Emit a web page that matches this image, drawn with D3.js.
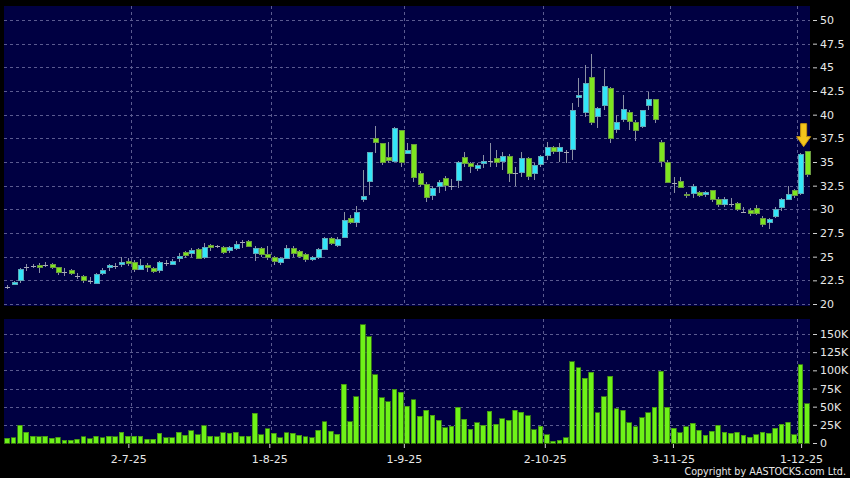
<!DOCTYPE html>
<html><head><meta charset="utf-8">
<script src="https://cdn.jsdelivr.net/npm/d3@7"></script>
<style>html,body{margin:0;padding:0;background:#000;}svg{display:block;}</style>
</head><body>
<svg id="c" width="850" height="478"></svg>
<script>
// trading days (day numbers per month, 2025)
const jun = [3,4,5,6,9,10,11,12,13,16,17,18,19,20,23,24,25,26,27,30];
const jul = [2,3,4,7,8,9,10,11,14,15,16,17,18,21,22,23,24,25,28,29,30,31];
const aug = [1,4,5,6,7,8,11,12,13,14,15,18,19,20,21,22,25,26,27,28,29];
const sep = [1,2,3,4,5,8,9,10,11,12,15,16,17,18,19,22,23,24,25,26,29,30];
const oct = [2,3,6,8,9,10,13,14,15,16,17,20,21,22,23,24,27,28,30,31];
const nov = [3,4,5,6,7,10,11,12,13,14,17,18,19,20,21,24,25,26,27,28];
const dec = [1,2];
const dates = [].concat(
  jun.map(d => d + "-6-25"), jul.map(d => d + "-7-25"), aug.map(d => d + "-8-25"),
  sep.map(d => d + "-9-25"), oct.map(d => d + "-10-25"), nov.map(d => d + "-11-25"),
  dec.map(d => d + "-12-25"));

const open = [21.76,22.08,22.46,23.94,24.01,24.08,24.16,24.19,23.87,23.41,23.56,23.00,22.93,22.46,22.18,23.24,23.87,24.01,24.19,24.54,
24.37,23.66,24.08,23.77,23.56,24.37,24.19,24.79,25.46,25.31,25.74,24.90,26.15,26.10,25.99,25.67,25.85,26.55,26.65,25.31,
25.81,25.20,24.93,24.37,24.83,25.81,25.52,25.24,24.65,24.93,25.78,26.94,26.17,27.05,29.05,28.63,31.06,32.96,37.50,36.97,
35.50,35.03,38.34,35.90,36.87,33.80,32.64,31.44,32.43,33.28,32.50,33.07,35.50,34.86,34.33,34.79,35.10,35.35,35.10,35.56,
33.80,33.91,35.39,33.80,34.76,35.71,36.55,36.13,36.09,36.27,41.82,40.25,43.94,39.78,40.99,42.78,38.45,39.50,40.20,39.15,
38.73,40.92,41.55,37.08,34.97,32.80,32.92,31.60,31.62,31.76,31.62,31.97,31.06,30.53,30.53,30.64,29.75,29.90,30.07,29.05,
28.63,29.22,30.21,31.09,32.00,31.62,36.09];
const high = [21.98,22.46,23.77,24.23,24.23,24.30,24.44,24.30,23.94,23.77,23.66,23.24,23.06,22.88,23.24,23.77,24.23,24.37,25.00,24.83,
24.65,24.75,24.30,23.87,24.58,24.65,24.72,25.42,25.60,25.88,25.88,26.47,26.34,26.20,26.13,26.13,26.65,26.76,26.76,26.13,
26.05,26.13,25.07,25.00,26.23,26.13,25.70,25.42,25.10,25.95,27.11,27.05,27.05,29.69,29.40,30.35,34.20,36.09,38.80,37.04,
37.10,38.73,38.40,36.97,36.87,34.05,32.92,32.46,33.10,33.52,33.17,35.14,36.09,35.03,34.93,35.74,37.00,36.27,36.09,35.81,
34.50,36.09,35.56,34.86,35.74,37.08,36.72,36.97,36.27,41.20,43.84,45.25,46.40,40.84,44.85,42.96,39.96,42.08,40.49,39.44,
40.49,42.43,41.55,37.32,35.21,33.45,33.45,31.86,32.68,31.90,31.97,32.04,31.34,31.34,31.16,30.81,30.28,30.10,30.46,29.30,
29.05,30.21,31.16,32.46,32.11,35.98,36.20];
const low = [21.55,21.97,22.25,23.45,23.77,23.31,23.87,23.73,23.06,22.96,23.03,22.61,22.18,22.11,22.11,23.06,23.52,23.70,23.87,24.01,
23.41,23.66,23.41,23.24,23.31,24.01,24.08,24.47,24.83,25.00,24.72,24.79,25.63,25.90,25.28,25.35,25.70,25.88,25.99,24.58,
25.00,24.65,24.16,24.12,24.72,24.97,24.83,24.47,24.50,24.80,25.70,26.23,26.05,27.05,28.45,28.17,30.80,31.51,35.90,34.68,
34.86,35.03,34.50,35.85,32.92,32.33,30.81,30.99,31.76,31.97,32.04,32.22,34.50,33.87,34.08,34.33,34.50,34.50,34.15,32.92,
32.46,33.45,33.10,33.10,34.50,35.21,35.85,35.03,34.93,35.25,40.84,39.79,38.91,38.56,40.49,36.97,38.03,39.26,38.38,37.25,
38.56,40.49,39.09,34.50,32.75,31.76,32.22,31.16,31.16,31.30,31.34,30.81,30.28,30.28,30.28,29.86,29.58,29.30,29.40,28.17,
27.95,29.05,29.86,30.99,31.16,31.55,33.45];
const close = [21.76,22.29,23.66,23.94,24.01,23.87,24.16,23.84,23.35,23.41,23.20,23.00,22.50,22.46,23.13,23.56,24.08,24.01,24.40,24.30,
23.66,24.04,23.87,23.41,24.37,24.37,24.51,25.04,25.10,25.67,24.79,25.95,26.00,26.10,25.49,25.92,26.31,26.55,26.10,25.81,
25.28,24.95,24.44,24.83,25.88,25.31,25.07,24.65,24.93,25.78,26.94,26.41,26.84,28.84,28.63,29.69,31.38,36.02,37.04,34.93,
35.14,38.55,34.93,36.20,33.38,32.64,31.27,32.25,32.85,32.54,32.50,34.97,34.79,34.55,34.65,35.07,35.10,34.97,35.60,33.80,
33.80,35.39,33.49,34.58,35.53,36.55,36.13,36.55,36.09,40.45,41.98,43.31,39.19,40.67,42.99,37.50,39.19,40.56,39.26,38.38,
40.39,41.55,39.50,35.03,32.85,32.80,32.33,31.45,32.39,31.48,31.76,31.09,30.46,30.99,30.53,30.03,29.75,29.60,29.58,28.45,
28.95,30.00,30.99,31.59,31.41,35.84,33.63];
// volume in thousands of shares
const volumeK = [6.4,6.9,24.3,14.7,9.2,8.7,9.6,6.4,7.8,3.7,3.7,5.0,8.3,6.0,9.2,7.3,9.6,8.3,15.1,9.2,
9.2,9.2,5.5,5.5,13.3,7.3,6.9,15.1,11.0,17.0,11.5,23.6,9.2,8.3,13.8,13.3,15.1,9.0,9.2,40.8,
11.5,19.5,13.5,6.9,14.2,13.3,11.0,8.7,6.9,17.4,28.9,16.5,11.9,80.7,28.9,63.5,162.4,146.3,94.0,62.0,
57.0,74.3,69.5,50.5,59.2,36.7,45.4,38.0,31.2,21.1,22.9,49.1,33.0,18.8,28.0,24.3,44.0,25.7,33.5,31.6,
45.0,42.2,37.6,17.9,22.9,11.5,2.3,4.1,7.3,112.0,103.6,89.4,97.2,41.3,63.7,91.7,46.8,45.4,28.0,22.5,
34.9,41.8,49.1,98.6,49.1,20.6,13.8,22.5,27.1,17.4,11.0,16.1,24.3,14.7,13.3,15.1,10.5,7.8,11.5,15.1,
13.3,20.6,26.1,28.4,11.5,107.8,53.7];

const priceTicks = [20,22.5,25,27.5,30,32.5,35,37.5,40,42.5,45,47.5,50];
const volTicks = [0,25,50,75,100,125,150];
const tickDates = ["2-7-25","1-8-25","1-9-25","2-10-25","3-11-25","1-12-25"];

const FONT = "DejaVu Sans, Verdana, sans-serif";
const svg = d3.select("#c");
svg.append("rect").attr("width",850).attr("height",478).attr("fill","#000");

const L = 4, R = 810;
const P = {top:6, bottom:306}, V = {top:319, bottom:443};
const x = d3.scaleBand().domain(dates).range([L, R]).padding(0);
const bw = x.bandwidth();
const xl = d3.scaleLinear().domain([0, dates.length - 1]).range([0.2, 807.5]);
const yP = d3.scaleLinear().domain([20, 50]).range([304, 20]);
const yV = d3.scaleLinear().domain([0, 150]).range([443, 334]);

const panelFill = "#000042";
svg.append("rect").attr("x",L).attr("y",P.top).attr("width",R-L).attr("height",P.bottom-P.top).attr("fill",panelFill);
svg.append("rect").attr("x",L).attr("y",V.top).attr("width",R-L).attr("height",V.bottom-V.top).attr("fill",panelFill);

const gridCol = "#5b5b90";
const grid = svg.append("g").attr("stroke",gridCol).attr("stroke-width",1).attr("stroke-dasharray","3,3").attr("shape-rendering","crispEdges");
grid.selectAll(".hp").data(priceTicks).join("line")
  .attr("x1",L).attr("x2",R).attr("y1",d=>Math.round(yP(d))+0.5).attr("y2",d=>Math.round(yP(d))+0.5);
grid.selectAll(".hv").data(volTicks.filter(v=>v>0)).join("line")
  .attr("x1",L).attr("x2",R).attr("y1",d=>Math.round(yV(d))+0.5).attr("y2",d=>Math.round(yV(d))+0.5);
tickDates.forEach(td => {
  const gx = Math.round(x(td)) + 0.5;
  grid.append("line").attr("x1",gx).attr("x2",gx).attr("y1",P.top).attr("y2",P.bottom);
  grid.append("line").attr("x1",gx).attr("x2",gx).attr("y1",V.top).attr("y2",V.bottom);
});

// candles
const candles = svg.append("g").attr("shape-rendering","crispEdges");
const wickCol = "#8a90a4";
const upFill = "#33e6f8", upStroke = "#5fa8b8";
const dnFill = "#7ee620", dnStroke = "#6a9a40";
dates.forEach((d, i) => {
  const cx = Math.round(x(d) + bw/2) + 0.5;
  const o = open[i], c = close[i], h = high[i], l = low[i];
  candles.append("line").attr("x1",cx).attr("x2",cx).attr("y1",yP(h)).attr("y2",yP(l))
    .attr("stroke",wickCol).attr("stroke-width",1);
  if (o === c) {
    candles.append("line").attr("x1",cx-2.5).attr("x2",cx+2.5).attr("y1",Math.round(yP(o))+0.5).attr("y2",Math.round(yP(o))+0.5)
      .attr("stroke","#a8aab8").attr("stroke-width",1);
  } else {
    const top = yP(Math.max(o,c)), bot = yP(Math.min(o,c));
    candles.append("rect").attr("x",cx-2.5).attr("y",top).attr("width",5).attr("height",Math.max(1.5,bot-top))
      .attr("fill", c > o ? upFill : dnFill).attr("stroke", c > o ? upStroke : dnStroke).attr("stroke-width",1);
  }
});

// volume bars
svg.append("g").attr("shape-rendering","crispEdges").selectAll("rect").data(volumeK).join("rect")
  .attr("x",(v,i)=>x(dates[i])+0.9).attr("width",bw-1.6)
  .attr("y",v=>yV(v)).attr("height",v=>yV(0)-yV(v))
  .attr("fill","#6ef218").attr("stroke","#3f8a12").attr("stroke-width",0.8);

// arrow marker over latest candles
const ax = x(dates[dates.length-1]);
const tipY = yP(high[dates.length-1]) - 4;
svg.append("path")
  .attr("d",`M${ax-3},${tipY-23} L${ax+3},${tipY-23} L${ax+3},${tipY-10} L${ax+7},${tipY-10} L${ax},${tipY} L${ax-7},${tipY-10} L${ax-3},${tipY-10} Z`)
  .attr("fill","#f4c51c").attr("stroke","#c8960e").attr("stroke-width",1);

// axes
function styleAxis(g){
  g.select(".domain").remove();
  g.selectAll(".tick line").attr("stroke","#d0d0d0");
  g.selectAll(".tick text").attr("fill","#e8e8e8").attr("font-family",FONT).attr("font-size",11);
}
svg.append("g").attr("transform",`translate(813,0)`)
  .call(d3.axisRight(yP).tickValues(priceTicks).tickSize(4).tickPadding(3).tickFormat(d=>String(d)))
  .call(styleAxis);
svg.append("g").attr("transform",`translate(813,0)`)
  .call(d3.axisRight(yV).tickValues(volTicks).tickSize(4).tickPadding(3).tickFormat(d=>d===0?"0":d+"K"))
  .call(styleAxis);
svg.append("g").attr("transform",`translate(0,444)`)
  .call(d3.axisBottom(xl).tickValues(tickDates.map(t=>dates.indexOf(t))).tickSize(4).tickPadding(7).tickFormat(i=>dates[i]))
  .call(styleAxis);

svg.append("text").attr("x",846).attr("y",475).attr("text-anchor","end")
  .attr("fill","#e8e8e8").attr("font-family",FONT).attr("font-size",9.6)
  .text("Copyright by AASTOCKS.com Ltd.");
</script>
</body></html>
